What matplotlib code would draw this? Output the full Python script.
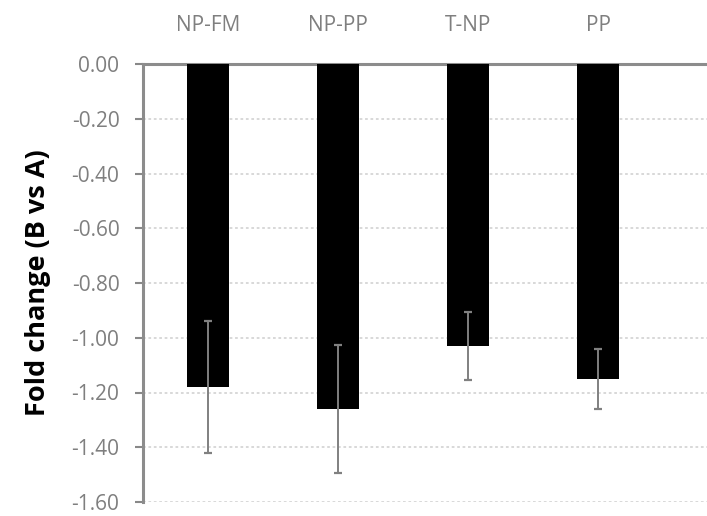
import matplotlib
matplotlib.use("Agg")
import matplotlib.pyplot as plt
import numpy as np

categories = ["NP-FM", "NP-PP", "T-NP", "PP"]
values = [-1.18, -1.26, -1.03, -1.15]
errors = [0.24, 0.235, 0.125, 0.11]
yticks = [0.0, -0.2, -0.4, -0.6, -0.8, -1.0, -1.2, -1.4, -1.6]
ylabel = "Fold change (B vs A)"

plt.rcParams['font.family'] = ['Open Sans', 'DejaVu Sans']

fig = plt.figure(figsize=(7.07, 5.16), dpi=100)
ax = fig.add_axes([143/707, 14/516, 1 - 143/707, (502-64)/516])

x = np.arange(len(categories))
ax.bar(x, values, width=0.32, color="black", zorder=3)
ax.errorbar(x, values, yerr=errors, fmt="none", ecolor="#808080",
            elinewidth=1.4, capsize=3, capthick=1.6, zorder=4)

ax.set_xlim(-0.5, -0.5 + 564/130)
ax.set_ylim(-1.6, 0)
ax.set_yticks(yticks)
ax.set_yticklabels([f"{v:.2f}" for v in yticks], color="#7f7f7f", fontsize=15)
ax.tick_params(axis="y", length=6, width=1.5, color="#888888", pad=11)

ax.xaxis.tick_top()
ax.set_xticks(x)
ax.set_xticklabels(categories, color="#7f7f7f", fontsize=15)
ax.tick_params(axis="x", length=0, pad=20)

ax.grid(axis="y", linestyle=(0, (1.5, 1.5)), color="#d6d6d6", linewidth=1.3, zorder=0)
for s in ["right", "bottom"]:
    ax.spines[s].set_visible(False)
ax.spines["top"].set_color("#8c8c8c")
ax.spines["top"].set_linewidth(2.2)
ax.spines["left"].set_color("#8c8c8c")
ax.spines["left"].set_linewidth(2.2)

ax.set_ylabel(ylabel, fontsize=19.5, fontweight="bold")
ax.yaxis.set_label_coords(-0.163, 0.5)

fig.savefig("out.png", dpi=100)
